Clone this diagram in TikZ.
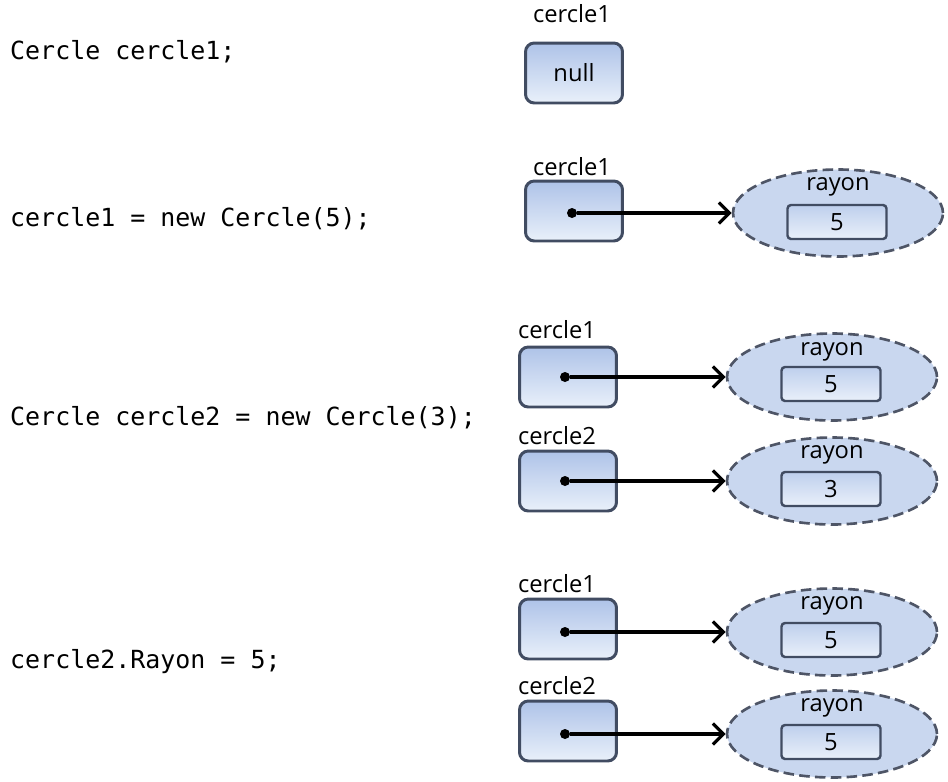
\documentclass[tikz,border=0pt]{standalone}
\usepackage{fontspec}
\setmainfont{Open Sans}
\setmonofont{DejaVu Sans Mono}
\usetikzlibrary{positioning, arrows.meta, shapes.geometric}
\definecolor{boxline}{HTML}{414C62}
\definecolor{boxtop}{HTML}{AEC3E8}
\definecolor{boxbot}{HTML}{E9F0FA}
\definecolor{ellfill}{HTML}{C9D7EF}
\definecolor{ellline}{HTML}{4E5566}
\tikzset{varbox/.style={draw=boxline, line width=1.7pt, rounded corners=5pt,
                        top color=boxtop, bottom color=boxbot,
                        minimum width=1.94cm, minimum height=1.2cm,
                        font=\fontsize{13.5}{15}\selectfont},
         varname/.style={font=\fontsize{13.5}{15}\selectfont},
         codeline/.style={anchor=west, font=\ttfamily\fontsize{14.2}{16}\selectfont},
         objell/.style={ellipse, draw=ellline, fill=ellfill, line width=1.5pt,
                        dash pattern=on 6pt off 3pt, inner sep=0pt,
                        minimum width=4.2cm, minimum height=1.74cm},
         valbox/.style={draw=boxline, line width=1.4pt, rounded corners=2pt,
                        top color=boxtop!80, bottom color=boxbot,
                        minimum width=1.98cm, minimum height=0.68cm,
                        font=\fontsize{13.5}{15}\selectfont},
         refdot/.style={circle, fill=black, inner sep=0pt, minimum size=0.2cm},
         refarrow/.style={line width=2pt, -{Straight Barb[length=6pt, width=12pt, line width=1.8pt]}}}

\begin{document}
\begin{tikzpicture}[x=0.02cm, y=-0.02cm]
        \useasboundingbox (0,0) rectangle (948,782);

        % Code
        \node[codeline] (l1) at (4,52) {Cercle cercle1;};
        \node[codeline] (l2) at (4,219) {cercle1 = new Cercle(5);};
        \node[codeline] (l3) at (4,418) {Cercle cercle2 = new Cercle(3);};
        \node[codeline] (l4) at (4,662) {cercle2.Rayon = 5;};

        % Step 1
        \node[varname] (n1) at (572,14) {cercle1};
        \node[varbox] (v1) at (574,73) {null};

        % Step 2
        \node[varname] (n2) at (572,167) {cercle1};
        \node[varbox] (v2) at (574,211) {};
        \node[refdot] (p2) at (572,213) {};
        \node[objell] (o2) at (838,213) {};
        \node[varname] (r2) at (838,187) {rayon};
        \node[valbox] (k2) at (837,222) {5};

        % Step 3
        \node[varname] (n3a) at (557,330) {cercle1};
        \node[varbox] (v3a) at (568,377) {};
        \node[refdot] (p3a) at (565,377) {};
        \node[objell] (o3a) at (832,377) {};
        \node[varname] (r3a) at (832,352) {rayon};
        \node[valbox] (k3a) at (831,384) {5};

        \node[varname] (n3b) at (557,436) {cercle2};
        \node[varbox] (v3b) at (568,481) {};
        \node[refdot] (p3b) at (565,481) {};
        \node[objell] (o3b) at (832,481) {};
        \node[varname] (r3b) at (832,455) {rayon};
        \node[valbox] (k3b) at (831,489) {3};

        % Step 4
        \node[varname] (n4a) at (557,584) {cercle1};
        \node[varbox] (v4a) at (568,629) {};
        \node[refdot] (p4a) at (565,632) {};
        \node[objell] (o4a) at (832,632) {};
        \node[varname] (r4a) at (832,606) {rayon};
        \node[valbox] (k4a) at (831,640) {5};

        \node[varname] (n4b) at (557,686) {cercle2};
        \node[varbox] (v4b) at (568,731) {};
        \node[refdot] (p4b) at (565,734) {};
        \node[objell] (o4b) at (832,734) {};
        \node[varname] (r4b) at (832,708) {rayon};
        \node[valbox] (k4b) at (831,742) {5};

        % References
        \draw[refarrow] (p2) -- (o2);
        \draw[refarrow] (p3a) -- (o3a);
        \draw[refarrow] (p3b) -- (o3b);
        \draw[refarrow] (p4a) -- (o4a);
        \draw[refarrow] (p4b) -- (o4b);

\end{tikzpicture}
\end{document}
